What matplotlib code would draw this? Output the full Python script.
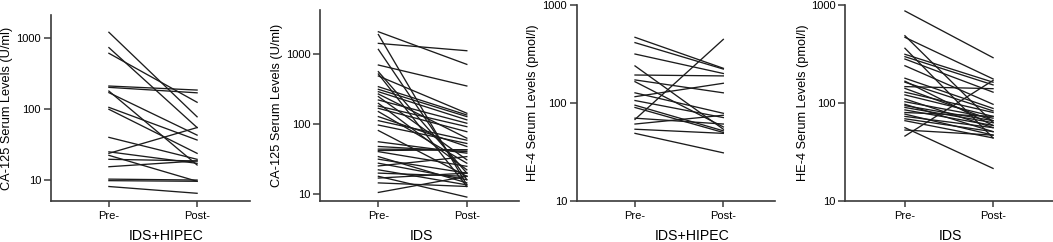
import matplotlib
matplotlib.use('Agg')
import matplotlib.pyplot as plt
from matplotlib.ticker import FixedLocator, NullLocator

plt.rcParams['font.family'] = ['Liberation Sans', 'DejaVu Sans']

timepoints = ['Pre-', 'Post-']

# CA-125, IDS+HIPEC group (U/ml)
ca125HipecPre = [1215, 738, 614, 212, 203, 180, 171, 106, 99.5, 40, 25, 23.8, 22.3, 19.6, 15.4, 10.3, 9.8, 8.1]
ca125HipecPost = [78, 55, 125, 186, 170, 16.3, 43, 36.7, 23.8, 19.6, 17.2, 55, 9.6, 18.6, 18.6, 10, 9.6, 6.5]

# CA-125, IDS group (U/ml)
ca125IdsPre = [2080, 1900, 1420, 1165, 697, 560, 519, 486, 342, 314, 290, 269, 247, 221, 198, 181, 168, 151,
               128, 112, 97, 81, 56, 48, 44, 42, 40.5, 34.4, 31.6, 27.7, 25.3, 22.3, 20, 18, 17, 14.5, 10.6]
ca125IdsPost = [712, 13.6, 1115, 16.1, 350, 20, 12.9, 143, 135, 128, 115, 63, 31, 103, 22.3, 92, 78, 27.7,
                48, 59, 53, 18, 38.5, 40.5, 43, 43, 25, 14.5, 20, 16.1, 34.4, 13.6, 18, 9.1, 20, 12.9, 18]

# HE-4, IDS+HIPEC group (pmol/l)
he4HipecPre = [468, 413, 316, 239, 193, 172, 165, 127, 116, 106, 95, 90, 70, 68, 61, 54, 49]
he4HipecPost = [226, 222, 200, 54, 189, 127, 57, 78.5, 159, 71, 52, 50, 61, 446, 75, 49, 31]

# HE-4, IDS group (pmol/l)
he4IdsPre = [869, 486, 468, 362, 314, 297, 281, 240, 179, 167, 163, 147, 141, 129, 121, 110, 103, 97,
             94, 90, 85, 80, 77, 73, 69, 66, 56, 53, 46]
he4IdsPost = [290, 63, 176, 44, 163, 153, 129, 97, 88, 59, 83, 140, 66, 80, 73, 56, 70, 51,
              66, 63, 59, 73, 47, 56, 51, 44, 21.5, 47, 170]

panels = [
    (ca125HipecPre, ca125HipecPost, 'CA-125 Serum Levels (U/ml)', 'IDS+HIPEC', (5.06, 2130)),
    (ca125IdsPre, ca125IdsPost, 'CA-125 Serum Levels (U/ml)', 'IDS', (8.0, 4250)),
    (he4HipecPre, he4HipecPost, 'HE-4 Serum Levels (pmol/l)', 'IDS+HIPEC', (10, 1000)),
    (he4IdsPre, he4IdsPost, 'HE-4 Serum Levels (pmol/l)', 'IDS', (10, 1000)),
]

# axes boxes in pixels: left, top, right (bottom is shared at 201)
boxes = [(50.7, 15, 250), (320, 10, 519), (576.7, 5, 775), (845, 5, 1053)]
xlims = [(-0.66, 1.6), (-0.66, 1.59), (-0.66, 1.585), (-0.68, 1.68)]
groupX = [0.579, 0.511, 0.58, 0.505]
# centre of the rotated y label, in pixels
ylabelPx = [7.5, 276.7, 533.3, 803.3]

W, H = 1053, 242
bottom = 201
fig = plt.figure(figsize=(W / 100, H / 100), dpi=100)

for i, (pre, post, ylab, group, ylim) in enumerate(panels):
    left, top, right = boxes[i]
    ax = fig.add_axes([left / W, 1 - bottom / H, (right - left) / W, (bottom - top) / H])
    for a, b in zip(pre, post):
        ax.plot([0, 1], [a, b], color='#1c1c1c', linewidth=0.95)

    ax.set_yscale('log')
    ax.set_ylim(*ylim)
    ax.set_xlim(*xlims[i])
    ax.yaxis.set_major_locator(FixedLocator([10, 100, 1000]))
    ax.yaxis.set_minor_locator(NullLocator())
    ax.set_yticklabels(['10', '100', '1000'])
    ax.set_xticks([0, 1])
    ax.set_xticklabels(timepoints)

    for side in ['top', 'right']:
        ax.spines[side].set_visible(False)
    for side in ['left', 'bottom']:
        ax.spines[side].set_color('#3a3a3a')
        ax.spines[side].set_linewidth(1.2)
    ax.tick_params(axis='y', length=5, width=1.1, color='#3a3a3a', labelsize=8, pad=2)
    ax.tick_params(axis='x', length=4.5, width=1.1, color='#3a3a3a', labelsize=8, pad=3)

    ax.set_ylabel(ylab, fontsize=9.2)
    ax.yaxis.label.set_va('center')
    ax.yaxis.set_label_coords((ylabelPx[i] - left) / (right - left), 0.5)
    ax.set_xlabel(group, fontsize=10.2)
    ax.xaxis.label.set_va('center')
    ax.xaxis.set_label_coords(groupX[i], -(235.5 - bottom) / (bottom - top))

fig.savefig('out.png', dpi=100)
